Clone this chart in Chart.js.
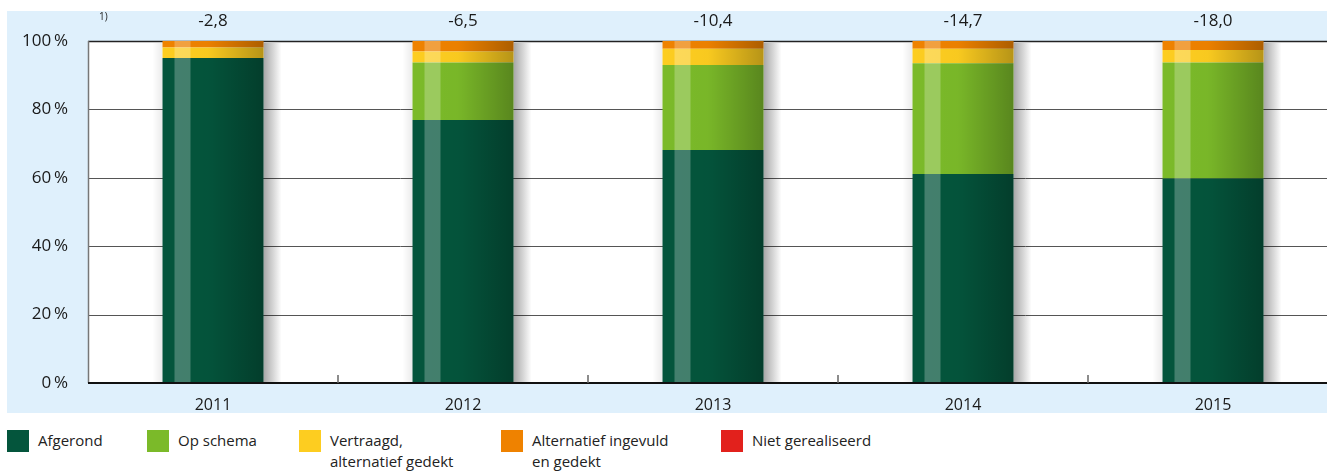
<!DOCTYPE html>
<html>
<head>
<meta charset="utf-8">
<script src="https://cdn.jsdelivr.net/npm/chart.js@4.4.1/dist/chart.umd.min.js"></script>
<style>
  body { margin: 0; width: 1327px; height: 473px; overflow: hidden; background: #fff; font-family: 'Open Sans', sans-serif; position: relative; }
  #panel { position: absolute; left: 7px; top: 11px; width: 1320px; height: 402px; background: #dff0fc; }
  #chart { position: absolute; left: 0; top: 0; }
  .leg { position: absolute; top: 430px; font-size: 15px; line-height: 21px; color: #222; }
  .leg span.box { position: absolute; left: 0; top: 0; width: 22px; height: 22px; }
  .leg div { margin-left: 31px; }
</style>
</head>
<body>
<div id="panel"></div>
<canvas id="chart" width="1340" height="420"></canvas>
<div id="legend"></div>
<script>
// years on the x axis
const years = ['2011', '2012', '2013', '2014', '2015'];
// shares per status (percent)
const afgerond = [95.0, 76.9, 68.1, 61.1, 59.8];
const opSchema = [0, 16.8, 24.9, 32.4, 33.9];
const vertraagd = [3.1, 3.2, 4.7, 4.2, 3.7];
const alternatief = [1.9, 3.1, 2.3, 2.3, 2.6];
const nietGerealiseerd = [0, 0, 0, 0, 0];
// numbers printed above the bars
const topLabels = ['-2,8', '-6,5', '-10,4', '-14,7', '-18,0'];
const yTicks = [0, 20, 40, 60, 80, 100];

const series = [
  { label: 'Afgerond', data: afgerond, color: '#04553c' },
  { label: 'Op schema', data: opSchema, color: '#7bba29' },
  { label: ['Vertraagd,', 'alternatief gedekt'], data: vertraagd, color: '#fdcd20' },
  { label: ['Alternatief ingevuld', 'en gedekt'], data: alternatief, color: '#ef8200' },
  { label: 'Niet gerealiseerd', data: nietGerealiseerd, color: '#e2211c' },
];

// white plot area + grid
const plotBg = {
  id: 'plotBg',
  beforeDraw(chart) {
    const { ctx, chartArea: a, scales: { y } } = chart;
    ctx.save();
    ctx.fillStyle = '#fff';
    ctx.fillRect(a.left, a.top, a.right - a.left, a.bottom - a.top);
    yTicks.forEach(v => {
      const py = Math.round(y.getPixelForValue(v)) + 0.5;
      ctx.strokeStyle = v === 100 ? '#222' : '#555';
      ctx.lineWidth = v === 100 ? 1.5 : 1;
      ctx.beginPath(); ctx.moveTo(a.left, py); ctx.lineTo(a.right, py); ctx.stroke();
    });
    ctx.strokeStyle = '#777';
    ctx.lineWidth = 1.5;
    ctx.beginPath(); ctx.moveTo(a.left + 0.5, a.top); ctx.lineTo(a.left + 0.5, a.bottom); ctx.stroke();
    ctx.restore();
  },
  beforeDatasetsDraw(chart) {
    // soft shadow right of each bar stack
    const { ctx, chartArea: a } = chart;
    const meta = chart.getDatasetMeta(0);
    ctx.save();
    meta.data.forEach(bar => {
      const r = bar.x + bar.width / 2;
      const g = ctx.createLinearGradient(r, 0, r + 18, 0);
      g.addColorStop(0, 'rgba(0,0,0,0.35)');
      g.addColorStop(1, 'rgba(0,0,0,0)');
      ctx.fillStyle = g;
      ctx.fillRect(r, a.top + 2, 18, a.bottom - a.top - 2);
      const l = bar.x - bar.width / 2;
      const g2 = ctx.createLinearGradient(l - 10, 0, l, 0);
      g2.addColorStop(0, 'rgba(0,0,0,0)');
      g2.addColorStop(1, 'rgba(0,0,0,0.08)');
      ctx.fillStyle = g2;
      ctx.fillRect(l - 10, a.top + 2, 10, a.bottom - a.top - 2);
    });
    ctx.restore();
  },
  afterDatasetsDraw(chart) {
    const { ctx, chartArea: a, scales: { x, y } } = chart;
    const meta = chart.getDatasetMeta(0);
    ctx.save();
    meta.data.forEach((bar, i) => {
      const l = bar.x - bar.width / 2;
      const top = y.getPixelForValue(100);
      const h = a.bottom - top;
      // darker towards the right
      const g = ctx.createLinearGradient(l, 0, l + bar.width, 0);
      g.addColorStop(0, 'rgba(0,0,0,0)');
      g.addColorStop(0.45, 'rgba(0,0,0,0.02)');
      g.addColorStop(1, 'rgba(0,0,0,0.28)');
      ctx.fillStyle = g;
      ctx.fillRect(l, top, bar.width, h);
      // light stripe
      ctx.fillStyle = 'rgba(255,255,255,0.25)';
      ctx.fillRect(l + 12, top, 16, h);
      // value above the bar
      ctx.fillStyle = '#1a1a1a';
      ctx.font = '17px "Open Sans", sans-serif';
      ctx.textAlign = 'center';
      ctx.textBaseline = 'middle';
      ctx.fillText(topLabels[i], bar.x, 21);
    });
    ctx.font = '10px "Open Sans", sans-serif';
    ctx.textAlign = 'left';
    ctx.fillText('1)', 99, 17);
    // bottom axis + short category separators
    ctx.strokeStyle = '#111';
    ctx.lineWidth = 2;
    ctx.beginPath(); ctx.moveTo(a.left, a.bottom); ctx.lineTo(a.right, a.bottom); ctx.stroke();
    ctx.strokeStyle = '#666';
    ctx.lineWidth = 1.5;
    const step = x.getPixelForValue(1) - x.getPixelForValue(0);
    for (let i = 0; i < years.length - 1; i++) {
      const px = Math.round(x.getPixelForValue(i) + step / 2);
      ctx.beginPath(); ctx.moveTo(px, a.bottom); ctx.lineTo(px, a.bottom - 8); ctx.stroke();
    }
    ctx.restore();
  }
};

new Chart(document.getElementById('chart'), {
  type: 'bar',
  data: {
    labels: years,
    datasets: series.map(s => ({
      label: Array.isArray(s.label) ? s.label.join(' ') : s.label,
      data: s.data,
      backgroundColor: s.color,
      borderWidth: 0,
      categoryPercentage: 1,
      barPercentage: 0.404,
    })),
  },
  options: {
    responsive: false,
    animation: false,
    layout: { padding: { left: 0, right: 2, top: 41, bottom: 0 } },
    plugins: { legend: { display: false }, tooltip: { enabled: false } },
    scales: {
      x: {
        stacked: true,
        grid: { display: false },
        border: { display: false },
        ticks: { color: '#1a1a1a', font: { size: 16, family: 'Open Sans' }, padding: 5 },
        afterFit(s) { s.height = 37; },
      },
      y: {
        stacked: true,
        min: 0, max: 100,
        afterBuildTicks(s) { s.ticks = yTicks.map(v => ({ value: v })); },
        grid: { display: false },
        border: { display: false },
        ticks: { color: '#1a1a1a', font: { size: 17, family: 'Open Sans' }, padding: 12, callback: v => v + '\u2009%' },
        afterFit(s) { s.width = 88; },
      },
    },
  },
  plugins: [plotBg],
});

// legend below the chart
const legendX = [7, 147, 299, 501, 721];
const legend = document.getElementById('legend');
series.forEach((s, i) => {
  const item = document.createElement('div');
  item.className = 'leg';
  item.style.left = legendX[i] + 'px';
  const box = document.createElement('span');
  box.className = 'box';
  box.style.background = s.color;
  const txt = document.createElement('div');
  txt.innerHTML = (Array.isArray(s.label) ? s.label : [s.label]).join('<br>');
  item.appendChild(box);
  item.appendChild(txt);
  legend.appendChild(item);
});
</script>
</body>
</html>
